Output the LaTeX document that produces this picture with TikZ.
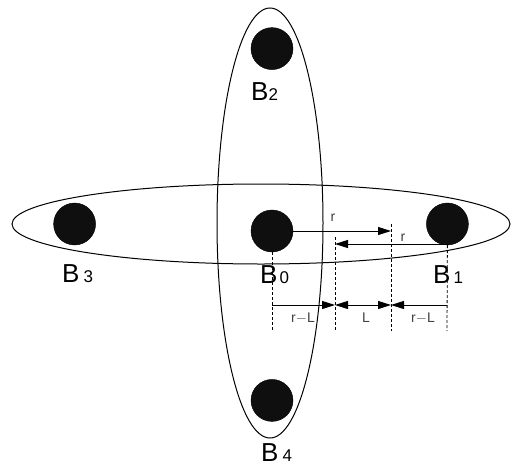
\documentclass[tikz,border=0pt]{standalone}
\usepackage{fontspec}
\setmainfont{Liberation Sans}
\usepackage{tikz}
\usetikzlibrary{positioning,shapes.geometric,arrows.meta}

\newcommand{\ballname}[2]{{\fontsize{26}{26}\selectfont B}\hspace{#2}{\fontsize{17}{17}\selectfont #1}}

\begin{document}
\begin{tikzpicture}[
        x=1pt, y=-1pt,
        >={Triangle[length=13pt,width=8pt]},
        ball/.style={circle, fill=black!94, draw=black, minimum size=42pt, inner sep=0pt},
        orbit/.style={ellipse, draw, line width=1pt, inner sep=0pt},
        ballname/.style={inner sep=0pt, anchor=base west},
        dimtext/.style={inner sep=0pt, text=black!75, font=\fontsize{14}{14}\selectfont},
        guide/.style={densely dashed, line width=0.8pt},
        arrow/.style={line width=1pt}
    ]
    \useasboundingbox (0,0) rectangle (514,466);

    % orbits
    \node[orbit, minimum width=498pt, minimum height=80pt] (horiz) at (261,224) {};
    \node[orbit, minimum width=106pt, minimum height=430pt] (vert) at (270,223) {};

    % balls
    \node[ball] (b0) at (272,231) {};
    \node[ball, right=133pt of b0, yshift=7pt] (b1) {};
    \node[ball, above=140pt of b0] (b2) {};
    \node[ball, left=155pt of b0, yshift=7pt] (b3) {};
    \node[ball, below=127pt of b0] (b4) {};

    % ball names
    \node[ballname] (n0) at (260,283) {\ballname{0}{2pt}};
    \node[ballname] (n1) at (433,283) {\ballname{1}{3pt}};
    \node[ballname] (n2) at (251,100) {\ballname{2}{0pt}};
    \node[ballname] (n3) at (62,282) {\ballname{3}{4pt}};
    \node[ballname] (n4) at (261,461) {\ballname{4}{4pt}};

    % ends of the guides
    \coordinate (up1) at (335,237);
    \coordinate (up2) at (391,224);
    \coordinate (low0) at (272,332);
    \coordinate (low1) at (335,331);
    \coordinate (low2) at (391,331);
    \coordinate (low3) at (447,331);

    % dashed guides
    \draw[guide] (b0.south) -- (low0);
    \draw[guide] (up1) -- (low1);
    \draw[guide] (up2) -- (low2);
    \draw[guide] (b1.south) -- (low3);

    % points on the guides
    \coordinate (hit1) at (391,231);
    \coordinate (hit2) at (335,244);
    \coordinate (start2) at (447,244);
    \coordinate (dim0) at (272,305);
    \coordinate (dim1) at (335,305);
    \coordinate (dim2) at (391,305);
    \coordinate (dim3) at (447,305);

    % r arrows
    \draw[arrow, ->] (b0.east) -- (hit1);
    \draw[arrow, ->] (start2) -- (hit2);

    % dimension arrows
    \draw[arrow, ->] (dim0) -- (dim1);
    \draw[arrow, <->] (dim1) -- (dim2);
    \draw[arrow, ->] (dim3) -- (dim2);

    % labels
    \node[dimtext] (r1) at (333,218) {r};
    \node[dimtext] (r2) at (403,238) {r};
    \node[dimtext] (d1) at (303,318) {r$-$L};
    \node[dimtext] (d2) at (366,318) {L};
    \node[dimtext] (d3) at (423,318) {r$-$L};

\end{tikzpicture}
\end{document}
